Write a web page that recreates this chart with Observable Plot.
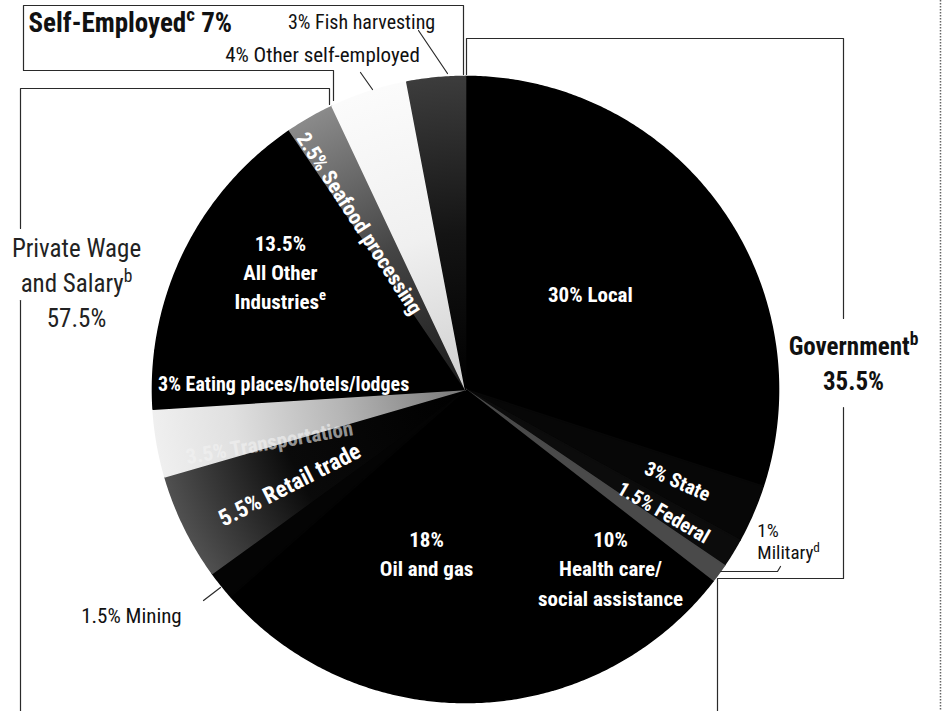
<!DOCTYPE html>
<html><head><meta charset="utf-8">
<script src="https://cdn.jsdelivr.net/npm/d3@7"></script>
<script src="https://cdn.jsdelivr.net/npm/@observablehq/plot@0.6"></script>
<style>
html,body{margin:0;padding:0;background:#fff;}
#chart{width:945px;height:711px;overflow:hidden;}
</style></head><body><div id="chart"></div>
<script>
// ---------------- DATA ----------------
const categories = ["Local","State","Federal","Military","Health care/social assistance","Oil and gas","Mining","Retail trade","Transportation","Eating places/hotels/lodges","All Other Industries","Seafood processing","Other self-employed","Fish harvesting"];
const shares = [30, 3, 1.5, 1, 10, 18, 1.5, 5.5, 3.5, 3, 13.5, 2.5, 4, 3];
const sectors = ["Government","Government","Government","Government","Private","Private","Private","Private","Private","Private","Private","Private","Self-Employed","Self-Employed"];
const sliceLabels = ["30% Local","3% State","1.5% Federal","1%\nMilitary^d","10%\nHealth care/\nsocial assistance","18%\nOil and gas","1.5% Mining","5.5% Retail trade","3.5% Transportation","3% Eating places/hotels/lodges","13.5%\nAll Other\nIndustries^e","2.5% Seafood processing","4% Other self-employed","3% Fish harvesting"];
const sectorNames = ["Government","Private","Self-Employed"];
const sectorLabels = ["Government^b\n35.5%","Private Wage\nand Salary^b\n57.5%","Self-Employed^c 7%"];

// ---------------- LAYOUT / STYLE ----------------
const W = 945, H = 711, R = 313;
const CX = 465, CY = 389;
const FONT = '"Liberation Sans Narrow","Arial Narrow","Roboto Condensed","Open Sans",sans-serif';
const sliceFill = ["#000","#070707","#0c0c0c","#4a4a4a","#000","#000","#040404","url(#gRetail)","url(#gLight)","#000","#000","url(#gSeafood)","url(#gOtherSE)","url(#gFish)"];
// label placement: radius (px from centre), angle (deg clockwise from 12 o'clock), rotation, anchor, size, style
const labelLayout = [
  {r:158, a:52.2,  rot:0,   anchor:"middle", size:21, kind:"in"},
  {r:231, a:112.9, rot:24,  anchor:"middle", size:20, kind:"in"},
  {r:233, a:121.3, rot:30,  anchor:"middle", size:20, kind:"in"},
  {r:329, a:117.5, rot:0,   anchor:"start",  size:19, kind:"out"},
  {r:229, a:140.7, rot:0,   anchor:"middle", size:21, kind:"in"},
  {r:167, a:193.5, rot:0,   anchor:"middle", size:21, kind:"in"},
  {r:402, a:236.2, rot:0,   anchor:"middle", size:21, kind:"out"},
  {r:200, a:242.3, rot:-27, anchor:"middle", size:23, kind:"in"},
  {r:203, a:255.5, rot:-10, anchor:"middle", size:21, kind:"faint"},
  {r:182, a:272.5, rot:0,   anchor:"middle", size:20, kind:"in"},
  {r:220, a:302.7, rot:0,   anchor:"middle", size:21, kind:"in"},
  {r:197, a:328.1, rot:57,  anchor:"middle", size:21, kind:"in"},
  {r:366, a:337,   rot:0,   anchor:"middle", size:21, kind:"out"},
  {r:384, a:344.3, rot:0,   anchor:"middle", size:20, kind:"out"}
];
const sectorLabelLayout = [
  {x:853, y:361, anchor:"middle", size:25, weight:"bold"},
  {x:76,  y:280, anchor:"middle", size:25, weight:"normal"},
  {x:28,  y:23,  anchor:"start",  size:27, weight:"bold"}
];
const rules = [
  [[333,100],[333,70],[23,70],[23,5],[463,5],[463,74]],
  [[20,711],[20,300]],
  [[20,228],[20,88],[329,88],[329,104]],
  [[466,74],[466,38],[843,38],[843,318]],
  [[843,407],[843,578],[717,578],[717,711]],
  [[720,571],[777,571],[780,566]],
  [[203,600],[220,587]],
  [[360,72],[372,89]],
  [[418,30],[447,73]]
];

// ---------------- GEOMETRY ----------------
const pie = d3.pie().sort(null).value(d => d)(shares);
const slicePts = [];
pie.forEach((p, i) => {
  const f = sliceFill[i];
  slicePts.push({k: i, x: CX, y: CY, f});
  const n = Math.max(2, Math.ceil((p.endAngle - p.startAngle) / 0.008));
  for (let j = 0; j <= n; j++) {
    const a = p.startAngle + (p.endAngle - p.startAngle) * j / n;
    slicePts.push({k: i, x: CX + R * Math.sin(a), y: CY - R * Math.cos(a), f});
  }
  slicePts.push({k: i, x: CX, y: CY, f});
});
const labels = sliceLabels.map((t, i) => {
  const L = labelLayout[i];
  const a = L.a * Math.PI / 180;
  return {text: t, x: CX + L.r * Math.sin(a), y: CY - L.r * Math.cos(a), rot: L.rot, anchor: L.anchor, size: L.size, kind: L.kind};
});
const ruleData = rules.flatMap((pts, k) => pts.map(([x, y]) => ({k, x, y})));
const secLab = sectorLabels.map((t, i) => ({text: t, ...sectorLabelLayout[i]}));

function textMarks(data, opts) {
  return Plot.text(data, {x: "x", y: "y", text: "text", rotate: "rot", fontSize: "size", lineHeight: 1.4, ...opts});
}

const plot = Plot.plot({
  width: W, height: H, margin: 0,
  x: {domain: [0, W], range: [0, W], axis: null},
  y: {domain: [0, H], range: [0, H], axis: null},
  color: {type: "identity"},
  style: {background: "#fff", fontFamily: FONT, overflow: "hidden"},
  marks: [
    Plot.line(slicePts, {x: "x", y: "y", z: "k", fill: "f", stroke: "f", strokeWidth: 1.6, strokeLinejoin: "round", curve: "linear"}),
    Plot.line(ruleData, {x: "x", y: "y", z: "k", stroke: "#2a2a2a", strokeWidth: 1.2, curve: "linear"}),
    Plot.ruleX([940], {y1: 0, y2: H, stroke: "#666", strokeWidth: 1.5, strokeDasharray: "1.5,1.5"}),
    textMarks(labels.filter(d => d.kind === "in"), {fill: "#fff", fontWeight: "bold", textAnchor: "middle"}),
    textMarks(labels.filter(d => d.kind === "faint"), {fill: "#f3f3f3", fontWeight: "bold", textAnchor: "middle", fillOpacity: 0.6}),
    textMarks(labels.filter(d => d.kind === "out" && d.anchor === "start"), {fill: "#111", textAnchor: "start", lineHeight: 1.15}),
    textMarks(labels.filter(d => d.kind === "out" && d.anchor === "middle"), {fill: "#111", textAnchor: "middle"}),
    Plot.text(secLab.filter(d => d.weight === "bold" && d.anchor === "middle"), {x: "x", y: "y", text: "text", fontSize: "size", fontWeight: "bold", fill: "#111", textAnchor: "middle", lineHeight: 1.4}),
    Plot.text(secLab.filter(d => d.weight === "bold" && d.anchor === "start"), {x: "x", y: "y", text: "text", fontSize: "size", fontWeight: "bold", fill: "#111", textAnchor: "start"}),
    Plot.text(secLab.filter(d => d.weight === "normal"), {x: "x", y: "y", text: "text", fontSize: "size", fill: "#222", textAnchor: "middle", lineHeight: 1.4})
  ]
});

// gradient defs that mimic the halftone shading of the grey slices
const svg = d3.select(plot);
const defs = svg.insert("defs", ":first-child");
function grad(id, stops) {
  const g = defs.append("radialGradient").attr("id", id).attr("gradientUnits", "userSpaceOnUse")
    .attr("cx", CX).attr("cy", CY).attr("r", R);
  stops.forEach(([o, c]) => g.append("stop").attr("offset", o).attr("stop-color", c));
}
grad("gRetail", [[0, "#000"], [0.6, "#0a0a0a"], [1, "#505050"]]);
grad("gLight", [[0, "#777"], [0.4, "#b5b5b5"], [0.75, "#e0e0e0"], [1, "#efefef"]]);
grad("gSeafood", [[0, "#1a1a1a"], [0.5, "#444"], [1, "#8a8a8a"]]);
grad("gOtherSE", [[0, "#cfcfcf"], [0.5, "#f0f0f0"], [1, "#fbfbfb"]]);
grad("gFish", [[0, "#000"], [0.5, "#141414"], [1, "#3c3c3c"]]);

// superscripts written as "^x"
svg.selectAll("text, tspan").each(function() {
  if (this.children.length) return;
  const t = this.textContent; const i = t.indexOf("^");
  if (i < 0) return;
  const ns = "http://www.w3.org/2000/svg";
  this.textContent = t.slice(0, i);
  const s = document.createElementNS(ns, "tspan");
  s.setAttribute("baseline-shift", "super"); s.setAttribute("font-size", "70%");
  s.textContent = t[i + 1];
  this.appendChild(s);
  const rest = t.slice(i + 2);
  if (rest) { const r = document.createElementNS(ns, "tspan"); r.textContent = rest; this.appendChild(r); }
});

document.getElementById("chart").appendChild(plot);
</script></body></html>
